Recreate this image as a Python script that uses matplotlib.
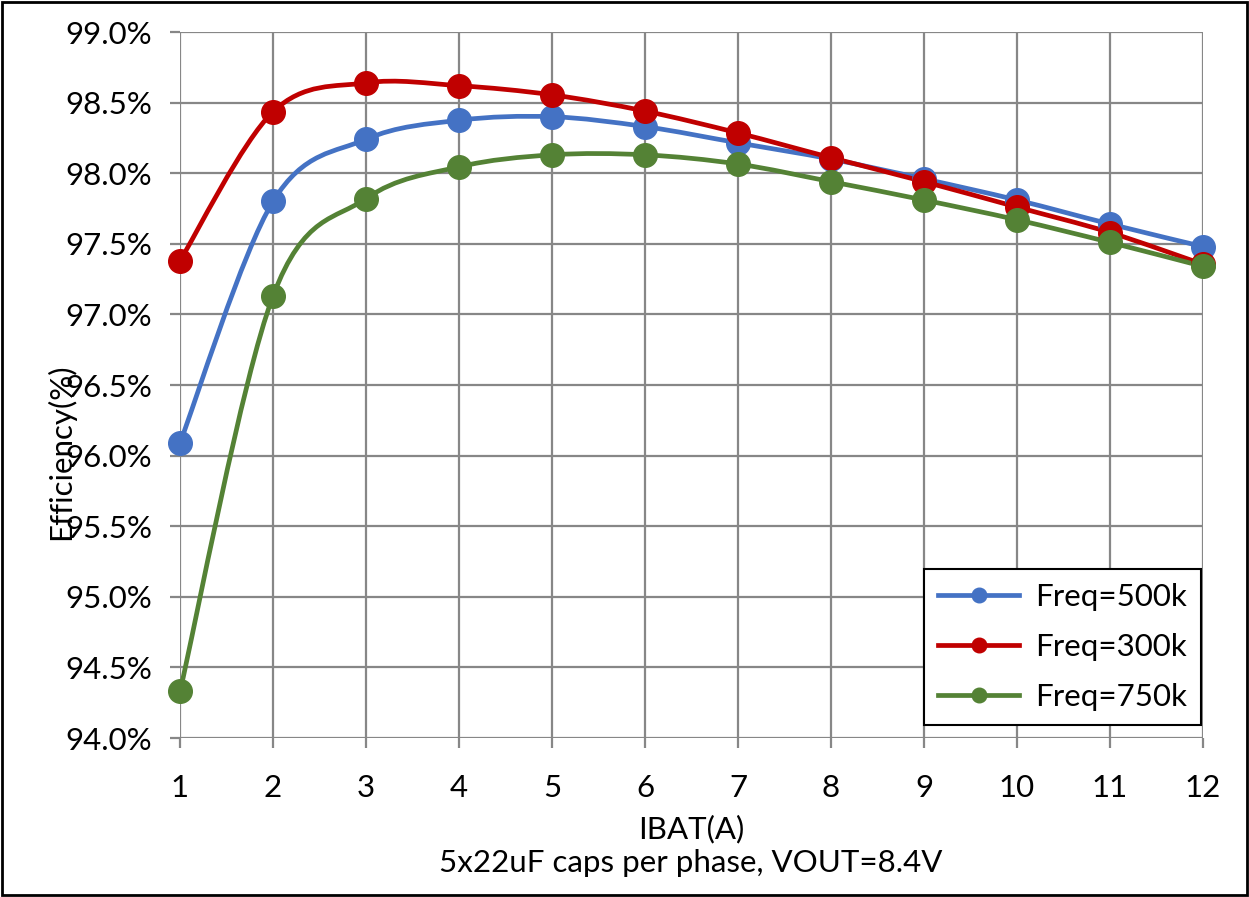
import matplotlib
matplotlib.use('Agg')
import matplotlib.pyplot as plt
from matplotlib.path import Path
from matplotlib.patches import PathPatch, Rectangle
from matplotlib.lines import Line2D
from matplotlib.ticker import FuncFormatter, MultipleLocator

plt.rcParams['font.family'] = ['Lato', 'DejaVu Sans']

# ── Data ──────────────────────────────────────────────────────────────────────
ibat = [1, 2, 3, 4, 5, 6, 7, 8, 9, 10, 11, 12]
eff_500k = [96.09, 97.80, 98.24, 98.375, 98.40, 98.33, 98.215, 98.10, 97.96, 97.81, 97.64, 97.48]
eff_300k = [97.38, 98.435, 98.64, 98.62, 98.555, 98.44, 98.285, 98.11, 97.94, 97.76, 97.58, 97.355]
eff_750k = [94.33, 97.13, 97.82, 98.045, 98.13, 98.13, 98.065, 97.94, 97.81, 97.67, 97.51, 97.34]
labels = ['Freq=500k', 'Freq=300k', 'Freq=750k']
colors = ['#4472C4', '#C00000', '#548235']

FS = 22.5
GRID = '#878787'


def smooth_path(xs, ys):
    # Excel-style smoothed line: cubic Bezier through each point (Catmull-Rom)
    pts = list(zip(xs, ys))
    n = len(pts)
    verts = [pts[0]]
    codes = [Path.MOVETO]
    for i in range(n - 1):
        p0 = pts[max(i - 1, 0)]
        p1 = pts[i]
        p2 = pts[i + 1]
        p3 = pts[min(i + 2, n - 1)]
        c1 = (p1[0] + (p2[0] - p0[0]) / 6, p1[1] + (p2[1] - p0[1]) / 6)
        c2 = (p2[0] - (p3[0] - p1[0]) / 6, p2[1] - (p3[1] - p1[1]) / 6)
        verts += [c1, c2, p2]
        codes += [Path.CURVE4] * 3
    return Path(verts, codes)


fig = plt.figure(figsize=(12.49, 8.97), dpi=100)
ax = fig.add_axes([180 / 1249, 1 - 738 / 897, 1023 / 1249, 706 / 897])

for ys, col in zip([eff_500k, eff_300k, eff_750k], colors):
    ax.add_patch(PathPatch(smooth_path(ibat, ys), fc='none', ec=col, lw=3.4,
                           capstyle='round', joinstyle='round', zorder=3))
    ax.plot(ibat, ys, ls='none', marker='o', ms=17, color=col, zorder=4, clip_on=False)

ax.set_xlim(1, 12)
ax.set_ylim(94.0, 99.0)
ax.xaxis.set_major_locator(MultipleLocator(1))
ax.yaxis.set_major_locator(MultipleLocator(0.5))
ax.yaxis.set_major_formatter(FuncFormatter(lambda v, p: f'{v:.1f}%'))
ax.grid(True, color=GRID, lw=1.6)
ax.set_axisbelow(True)
for s in ax.spines.values():
    s.set_visible(False)
ax.tick_params(axis='both', length=7, width=1.6, color=GRID, labelsize=FS)
ax.tick_params(axis='y', pad=13)
ax.tick_params(axis='x', pad=19)

ax.set_xlabel('IBAT(A)', fontsize=FS, labelpad=9)
ax.set_ylabel('Efficiency(%)', fontsize=FS)
ax.yaxis.set_label_coords(-0.117, 0.405)
ax.yaxis.label.set_va('center')
fig.text(0.553, 1 - 863 / 897, '5x22uF caps per phase, VOUT=8.4V',
         ha='center', va='center', fontsize=FS)

handles = [Line2D([], [], color=c, lw=3.4, marker='o', ms=10.5) for c in colors]
leg = ax.legend(handles, labels, loc='lower right', bbox_to_anchor=(0.998, 0.019),
                borderaxespad=0, fontsize=FS, fancybox=False, framealpha=1,
                edgecolor='black', handlelength=2.6, handletextpad=0.5,
                labelspacing=0.7, borderpad=0.45)
leg.get_frame().set_linewidth(1.5)
leg.set_zorder(10)

# outer chart border
fig.patches.append(Rectangle((0.002, 0.002), 0.996, 0.996, transform=fig.transFigure,
                             fill=False, ec='black', lw=2))

fig.savefig('out.png', dpi=100)
